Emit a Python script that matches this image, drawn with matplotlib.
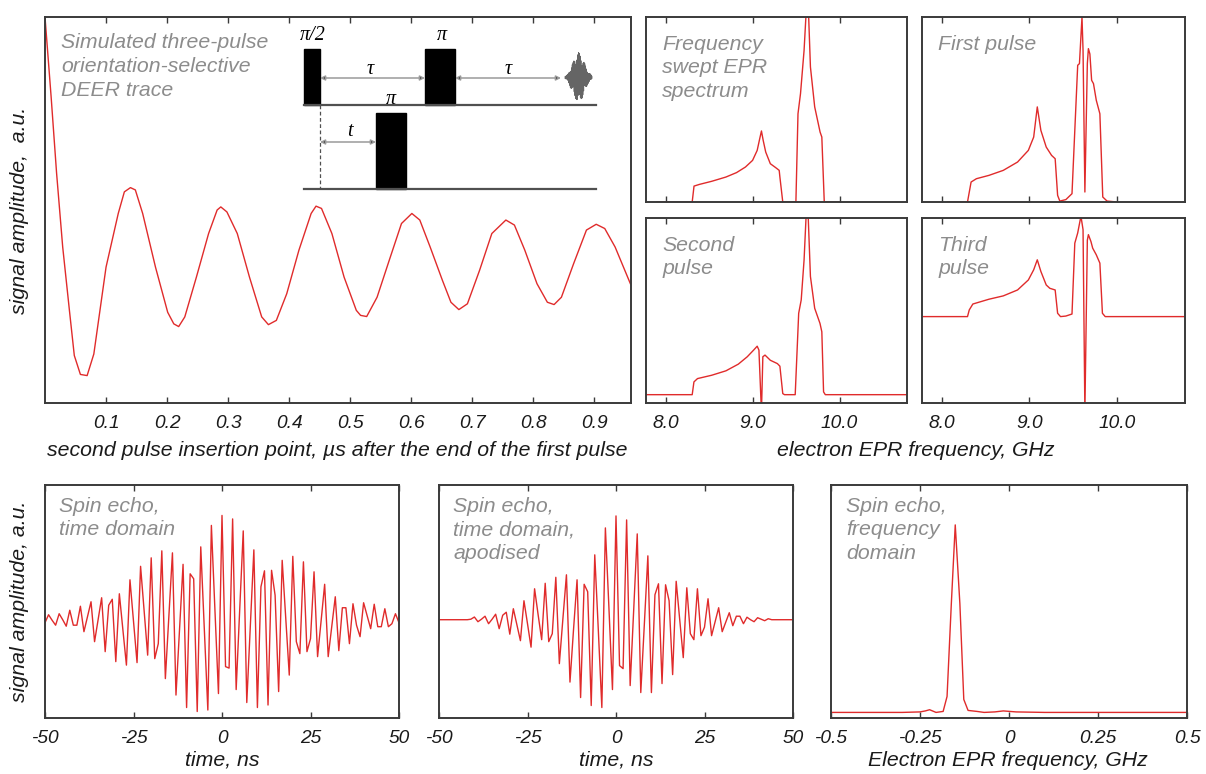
import numpy as np
import matplotlib
matplotlib.use("Agg")
import matplotlib.pyplot as plt
from matplotlib.patches import Rectangle

plt.rcParams['font.family'] = ['Liberation Sans', 'DejaVu Sans']
plt.rcParams['font.style'] = 'italic'

W, H = 1206, 774
RED = '#e02b2b'
GREY = '#8c8c8c'
FRAME = '#3a3a3a'
TXT = 15.3

# DEER trace (µs, fraction of panel height)
deer_t = [0.000, 0.010, 0.019, 0.029, 0.040, 0.048, 0.058, 0.069, 0.080, 0.100,
          0.120, 0.130, 0.140, 0.148, 0.160, 0.181, 0.201, 0.211, 0.219, 0.229,
          0.248, 0.268, 0.282, 0.288, 0.298, 0.315, 0.335, 0.355, 0.366, 0.379,
          0.396, 0.416, 0.436, 0.444, 0.453, 0.470, 0.490, 0.510, 0.517, 0.527,
          0.544, 0.564, 0.584, 0.601, 0.614, 0.631, 0.651, 0.665, 0.678, 0.692,
          0.712, 0.732, 0.755, 0.769, 0.786, 0.806, 0.823, 0.834, 0.846, 0.866,
          0.887, 0.903, 0.917, 0.934, 0.959]
deer_y = [1.000, 0.794, 0.595, 0.404, 0.240, 0.123, 0.074, 0.071, 0.127, 0.352,
          0.491, 0.547, 0.558, 0.552, 0.491, 0.352, 0.235, 0.205, 0.198, 0.223,
          0.326, 0.439, 0.500, 0.508, 0.495, 0.439, 0.326, 0.223, 0.203, 0.214,
          0.283, 0.396, 0.491, 0.510, 0.504, 0.439, 0.326, 0.240, 0.227, 0.224,
          0.274, 0.370, 0.465, 0.491, 0.474, 0.404, 0.318, 0.261, 0.242, 0.257,
          0.344, 0.439, 0.474, 0.461, 0.396, 0.309, 0.261, 0.255, 0.274, 0.361,
          0.448, 0.463, 0.452, 0.404, 0.309]

# EPR spectra (GHz, fraction of panel height)
swept_f = [7.90, 8.306, 8.327, 8.388, 8.531, 8.694, 8.816, 8.918, 9.000, 9.053,
           9.082, 9.102, 9.122, 9.151, 9.204, 9.265, 9.306, 9.314, 9.347, 9.498,
           9.522, 9.551, 9.592, 9.622, 9.641, 9.665, 9.714, 9.776, 9.796, 9.824,
           10.0]
swept_y = [0.0, 0.0, 0.086, 0.095, 0.112, 0.135, 0.159, 0.189, 0.225, 0.279,
           0.342, 0.384, 0.333, 0.270, 0.207, 0.186, 0.171, 0.135, 0.0, 0.0,
           0.477, 0.586, 0.820, 1.08, 1.05, 0.730, 0.514, 0.378, 0.351, 0.0,
           0.0]

first_f = [8.069, 8.294, 8.335, 8.396, 8.539, 8.702, 8.865, 8.988, 9.049, 9.090,
           9.131, 9.192, 9.253, 9.294, 9.322, 9.347, 9.416, 9.486, 9.518, 9.551,
           9.571, 9.600, 9.612, 9.633, 9.661, 9.673, 9.690, 9.710, 9.731, 9.763,
           9.804, 9.837, 9.886, 10.0]
first_y = [0.0, 0.0, 0.108, 0.126, 0.144, 0.171, 0.216, 0.279, 0.351, 0.514,
           0.387, 0.297, 0.252, 0.234, 0.036, 0.005, 0.013, 0.045, 0.387, 0.739,
           0.748, 1.0, 0.820, 0.054, 0.748, 0.829, 0.800, 0.658, 0.640, 0.550,
           0.477, 0.027, 0.005, 0.0]

second_f = [7.776, 8.306, 8.326, 8.367, 8.530, 8.694, 8.836, 8.939, 9.012, 9.053,
            9.073, 9.102, 9.118, 9.143, 9.204, 9.285, 9.314, 9.347, 9.367, 9.490,
            9.530, 9.559, 9.592, 9.622, 9.640, 9.665, 9.714, 9.775, 9.796, 9.816,
            9.836, 10.775]
second_y = [0.045, 0.045, 0.114, 0.132, 0.150, 0.174, 0.210, 0.250, 0.286, 0.307,
            0.286, -0.05, 0.250, 0.259, 0.231, 0.213, 0.199, 0.051, 0.045, 0.045,
            0.485, 0.557, 0.774, 1.08, 1.0, 0.684, 0.512, 0.430, 0.385, 0.060,
            0.045, 0.045]

third_f = [7.776, 8.294, 8.314, 8.355, 8.539, 8.702, 8.865, 8.988, 9.049, 9.090,
           9.131, 9.192, 9.233, 9.294, 9.322, 9.355, 9.416, 9.486, 9.518, 9.551,
           9.588, 9.612, 9.633, 9.661, 9.673, 9.702, 9.722, 9.763, 9.804, 9.833,
           9.865, 10.78]
third_y = [0.467, 0.467, 0.503, 0.535, 0.561, 0.579, 0.611, 0.665, 0.720, 0.774,
           0.711, 0.638, 0.620, 0.611, 0.485, 0.467, 0.470, 0.481, 0.864, 0.919,
           1.01, 0.937, -0.05, 0.880, 0.910, 0.873, 0.837, 0.801, 0.756, 0.485,
           0.467, 0.467]

# spin echo, 1 ns sampling from -50 to 50 ns
echo_t = np.arange(-50, 51)
echo_raw = [-0.1, 0.7, 0.15, -0.35, 0.8, 0.2, -0.45, 1.15, -0.35, -0.35,
            1.55, -1.0, 0.5, 2.0, -2.0, 0.2, 2.4, -3.0, 1.65, 2.25,
            -4.0, 2.8, -0.8, -4.35, 4.2, 0.05, -4.1, 5.55, 1.1, -3.35,
            6.4, -3.7, -2.2, 7.1, -5.7, 0.6, 6.9, -7.35, -0.8, 5.75,
            -8.6, 4.8, 4.3, -9.0, 7.5, -0.7, -8.85, 9.65, 1.2, -7.2,
            10.65, -4.5, -4.65, 10.3, -6.8, 1.2, 9.1, -8.1, -0.45, 7.2,
            -8.6, 3.5, 5.1, -8.35, 5.15, 2.65, -7.0, 6.15, 0.4, -5.35,
            6.55, -2.0, -3.2, 6.0, -3.0, -1.7, 5.0, -3.5, 0.1, 3.75,
            -3.5, -0.5, 2.5, -2.9, 1.4, 1.4, -2.2, 1.8, -0.35, -1.5,
            1.9, 0.6, -0.7, 1.75, -0.5, -0.5, 1.3, -0.5, -0.2, 0.8,
            -0.1]
echo_apod = [0.0, 0.0, 0.0, 0.0, 0.0, 0.0, 0.0, 0.0, 0.0, 0.05,
             0.27, -0.2, 0.05, 0.35, -0.4, 0.05, 0.55, -0.9, 0.45, 0.75,
             -1.45, 1.1, -0.5, -2.1, 1.9, -0.4, -2.75, 3.1, 0.5, -2.0,
             3.65, -2.2, -1.4, 4.25, -4.4, 0.1, 4.5, -6.25, -1.0, 4.0,
             -7.8, 3.55, 2.8, -8.6, 6.5, -1.0, -8.8, 9.2, 1.2, -7.0,
             10.4, -4.6, -4.9, 10.0, -6.6, 1.0, 8.6, -7.3, -0.5, 6.4,
             -7.3, 2.5, 3.6, -6.4, 3.5, 1.9, -5.5, 3.85, 0.0, -3.8,
             3.2, -1.4, -2.0, 3.1, -1.6, -0.75, 2.1, -1.6, -0.2, 1.2,
             -1.2, -0.25, 0.7, -0.6, 0.35, 0.35, -0.4, 0.25, 0.0, -0.2,
             0.2, 0.05, -0.1, 0.1, 0.0, 0.0, 0.0, 0.0, 0.0, 0.0,
             0.0]

# spin echo spectrum
spec_f = [-0.5, -0.3, -0.25, -0.235, -0.223, -0.205, -0.185, -0.174, -0.162, -0.151,
          -0.138, -0.127, -0.115, -0.09, -0.07, -0.04, -0.016, 0.02, 0.1, 0.3, 0.5]
spec_y = [0.0, 0.0, 0.05, 0.15, 0.27, 0.0, 0.1, 1.6, 10.9, 18.8,
          10.9, 1.3, 0.2, 0.1, 0.0, 0.05, 0.15, 0.05, 0.0, 0.0, 0.0]

deer_ticks = [0.1, 0.2, 0.3, 0.4, 0.5, 0.6, 0.7, 0.8, 0.9]
epr_ticks = [8.0, 9.0, 10.0]
epr_labels = ['8.0', '9.0', '10.0']
time_ticks = [-50, -25, 0, 25, 50]
time_labels = ['-50', '-25', '0', '25', '50']
freq_ticks = [-0.5, -0.25, 0, 0.25, 0.5]
freq_labels = ['-0.5', '-0.25', '0', '0.25', '0.5']

fig = plt.figure(figsize=(W / 100, H / 100), dpi=100)


def px_axes(l, t, r, b):
    return fig.add_axes([l / W, 1 - b / H, (r - l) / W, (b - t) / H])


def style(ax, ticks, labels=None):
    for s in ax.spines.values():
        s.set_color(FRAME)
        s.set_linewidth(1.4)
    ax.set_yticks([])
    ax.set_xticks(ticks)
    if labels is None:
        ax.tick_params(axis='x', labelbottom=False)
    else:
        ax.set_xticklabels(labels)
    ax.tick_params(axis='x', direction='in', top=True, bottom=True, length=4,
                   width=1.0, color=FRAME, labelsize=13.8, pad=8.5,
                   labelcolor='#1a1a1a')


def note(ax, x, y, s):
    ax.text(x, y, s, transform=ax.transAxes, ha='left', va='top', color=GREY,
            fontsize=TXT, linespacing=1.31)


# main DEER panel
ax = px_axes(45, 17, 631, 403)
ax.plot(deer_t, deer_y, color=RED, lw=1.0)
ax.set_xlim(0, 0.96)
ax.set_ylim(0, 1)
style(ax, deer_ticks, [f'{v:.1f}' for v in deer_ticks])

# EPR spectra panels
panels = [
    ((646, 17, 907, 202), swept_f, swept_y, False, 'Frequency\nswept EPR\nspectrum'),
    ((922, 17, 1185, 202), first_f, first_y, False, 'First pulse'),
    ((646, 218, 907, 403), second_f, second_y, True, 'Second\npulse'),
    ((922, 218, 1185, 403), third_f, third_y, True, 'Third\npulse'),
]
for rect, fx, fy, lab, txt in panels:
    a = px_axes(*rect)
    a.plot(fx, fy, color=RED, lw=1.0)
    a.set_xlim(7.775, 10.775)
    a.set_ylim(0, 1)
    style(a, epr_ticks, epr_labels if lab else None)
    note(a, 0.062, 0.905, txt)

# bottom row
a1 = px_axes(45, 485, 399, 718)
a1.plot(echo_t, echo_raw, color=RED, lw=1.0)
a1.set_xlim(-50, 50)
a1.set_ylim(-9.65, 13.7)
style(a1, time_ticks, time_labels)
note(a1, 0.040, 0.95, 'Spin echo,\ntime domain')

a2 = px_axes(439, 485, 793, 718)
a2.plot(echo_t, echo_apod, color=RED, lw=1.0)
a2.set_xlim(-50, 50)
a2.set_ylim(-9.85, 13.5)
style(a2, time_ticks, time_labels)
note(a2, 0.040, 0.95, 'Spin echo,\ntime domain,\napodised')

a3 = px_axes(831, 485, 1187, 718)
a3.plot(spec_f, spec_y, color=RED, lw=1.0)
a3.set_xlim(-0.5, 0.5)
a3.set_ylim(-0.56, 22.8)
style(a3, freq_ticks, freq_labels)
note(a3, 0.042, 0.95, 'Spin echo,\nfrequency\ndomain')

# axis labels
lab_kw = dict(fontsize=TXT, color='#1a1a1a', ha='center', va='center')
fig.text(20 / W, 1 - 210 / H, 'signal amplitude,  a.u.', rotation=90, **lab_kw)
fig.text(20 / W, 1 - 601 / H, 'signal amplitude, a.u.', rotation=90, **lab_kw)
fig.text(337 / W, 1 - 451 / H,
         'second pulse insertion point, µs after the end of the first pulse', **lab_kw)
fig.text(916 / W, 1 - 451 / H, 'electron EPR frequency, GHz', **lab_kw)
fig.text(222 / W, 1 - 760 / H, 'time, ns', **lab_kw)
fig.text(616 / W, 1 - 760 / H, 'time, ns', **lab_kw)
fig.text(1008 / W, 1 - 760 / H, 'Electron EPR frequency, GHz', **lab_kw)

# pulse sequence sketch (figure pixel coordinates)
ov = fig.add_axes([0, 0, 1, 1])
ov.set_xlim(0, W)
ov.set_ylim(H, 0)
ov.axis('off')
ov.patch.set_alpha(0)

ov.plot([304, 596], [104.5, 104.5], color='#505050', lw=1.6)
ov.plot([304, 596], [189, 189], color='#505050', lw=1.6)
for x0, y0, w, h in [(304, 49, 16, 55.5), (425, 49, 30, 55.5), (376, 113, 30, 76)]:
    ov.add_patch(Rectangle((x0, y0), w, h, facecolor='black', edgecolor='black'))
ov.plot([320, 320], [104.5, 189], color='#505050', lw=0.9, ls=(0, (3, 2)))

arrow_kw = dict(arrowstyle='<|-|>', mutation_scale=7, lw=1.1, ec='#9a9a9a',
                fc='black', shrinkA=0, shrinkB=0)
for xa, xb, y in [(320, 425, 78), (455, 561, 78), (320, 376, 142)]:
    ov.annotate('', xy=(xb, y), xytext=(xa, y), arrowprops=arrow_kw)

serif = dict(family=['Liberation Serif', 'DejaVu Serif'], style='italic',
             fontsize=14.5, ha='center', va='center', color='black')
ov.text(313, 35, 'π/2', **serif)
ov.text(442, 35, 'π', **serif)
ov.text(391, 100, 'π', **serif)
ov.text(370, 70, 'τ', **serif)
ov.text(508, 70, 'τ', **serif)
ov.text(350, 132, 't', **serif)

# small echo glyph at the end of the sequence
ex = 565 + (echo_t + 50) * 0.27
ov.plot(ex, 78 - np.array(echo_raw) * 2.4, color='#4a4a4a', lw=0.7, alpha=0.85)

note(ax, 0.027, 0.958, 'Simulated three-pulse\norientation-selective\nDEER trace')

fig.savefig('out.png', dpi=100)
